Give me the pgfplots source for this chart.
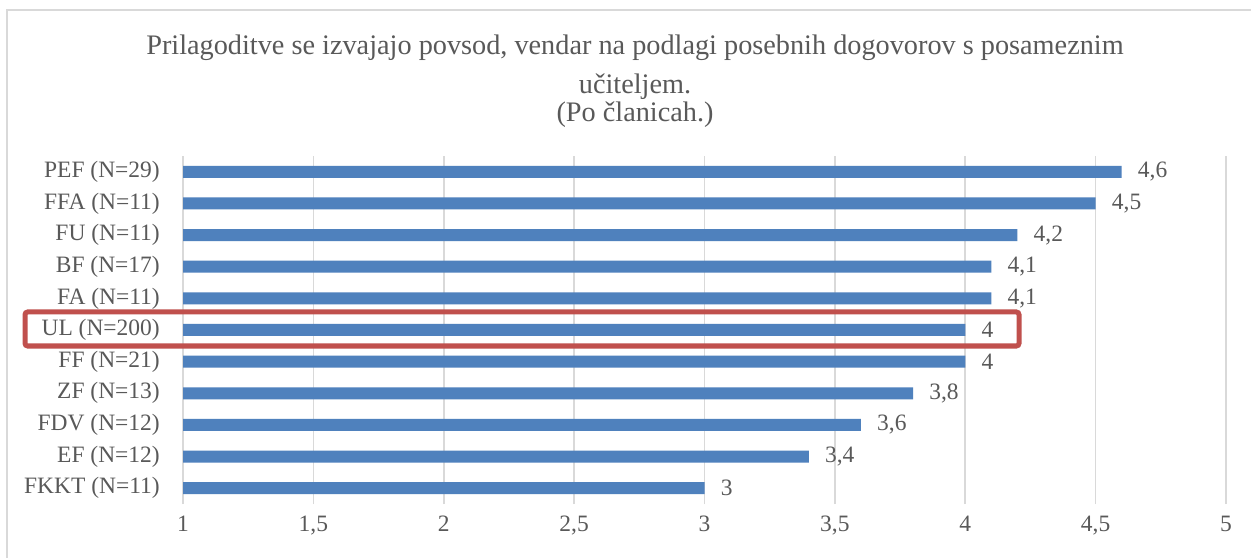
\documentclass[border=0pt]{standalone}
\usepackage{fontspec}
\setmainfont{Liberation Serif}
\usepackage{pgfplots}
\pgfplotsset{compat=1.18}
\definecolor{barblue}{HTML}{4F81BD}
\definecolor{hired}{HTML}{C0504D}
\definecolor{txt}{HTML}{595959}
\definecolor{grd}{HTML}{D9D9D9}
\begin{document}
\begin{tikzpicture}
\useasboundingbox (0,0) rectangle (938.25pt,417.75pt);
\fill[white] (0,0) rectangle (938.25pt,417.75pt);
\draw[grd, line width=1.2pt] (5.25pt,-10pt) -- (5.25pt,410.25pt) -- (950pt,410.25pt);
\node[anchor=base, text=txt, font=\fontsize{21.2}{25}\selectfont] at (476.25pt,376.5pt) {Prilagoditve se izvajajo povsod, vendar na podlagi posebnih dogovorov s posameznim};
\node[anchor=base, text=txt, font=\fontsize{21.2}{25}\selectfont] at (476.25pt,347.25pt) {učiteljem.};
\node[anchor=base, text=txt, font=\fontsize{21.2}{25}\selectfont] at (476.25pt,326.25pt) {(Po članicah.)};
\begin{axis}[
  at={(137.25pt,39.75pt)}, anchor=south west,
  scale only axis, width=782.25pt, height=261pt,
  xbar, bar width=9pt,
  xmin=1, xmax=5, ymin=0.5, ymax=11.5,
  xtick={1,1.5,2,2.5,3,3.5,4,4.5,5},
  ytick={1,2,3,4,5,6,7,8,9,10,11},
  yticklabels={FKKT (N=11), EF (N=12), FDV (N=12), ZF (N=13), FF (N=21), UL (N=200), FA (N=11), BF (N=17), FU (N=11), FFA (N=11), PEF (N=29)},
  /pgf/number format/use comma,
  /pgf/number format/assume math mode=true,
  xmajorgrids, ymajorgrids=false,
  grid style={grd, line width=1.2pt},
  axis line style={draw=none},
  major tick length=0pt,
  tick label style={font=\fontsize{17.6}{21}\selectfont, text=txt},
  yticklabel style={inner sep=0pt, anchor=east, xshift=-17.25pt},
  xticklabel style={inner sep=0pt, anchor=north, yshift=-9pt},
  nodes near coords,
  point meta=x,
  nodes near coords style={font=\fontsize{17.6}{21}\selectfont, text=txt, anchor=west, inner sep=0pt, xshift=12pt},
]
\addplot[fill=barblue, draw=none] coordinates {(3,1) (3.4,2) (3.6,3) (3.8,4) (4,5) (4,6) (4.1,7) (4.1,8) (4.2,9) (4.5,10) (4.6,11)};
\end{axis}
\draw[hired, line width=3.75pt, rounded corners=2pt] (18.75pt,158.25pt) rectangle (764.25pt,183.75pt);
\end{tikzpicture}
\end{document}
